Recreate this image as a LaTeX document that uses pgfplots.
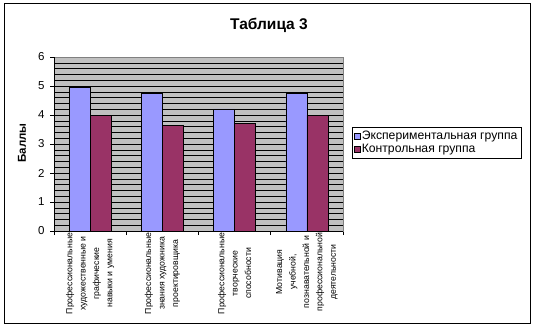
\documentclass[border=0pt]{standalone}
\usepackage{fontspec}
\setmainfont{Liberation Sans}
\usepackage{pgfplots}
\pgfplotsset{compat=1.18}
\definecolor{expc}{HTML}{9999FF}
\definecolor{ctlc}{HTML}{993366}
\definecolor{plotbg}{HTML}{C0C0C0}
\begin{document}
\begin{tikzpicture}[x=1pt,y=1pt]
\path[fill=white] (0,0) rectangle (535,327);
\draw[line width=0.9pt] (4,4) rectangle (530,324);
\node[font=\bfseries\fontsize{15.5}{17}\selectfont] at (269,302) {Таблица 3};
\node[rotate=90, font=\bfseries\fontsize{11.5}{13}\selectfont] at (22,184) {Баллы};
\begin{axis}[
  at={(54pt,96pt)}, anchor=south west,
  scale only axis, width=289pt, height=174pt,
  ybar=0pt, bar width=0.29,
  xmin=-0.5, xmax=3.5, ymin=0, ymax=6,
  axis background/.style={fill=plotbg},
  axis line style={draw=gray},
  ytick={0,1,2,3,4,5,6}, minor y tick num=4,
  ymajorgrids, yminorgrids,
  major grid style={black, line width=0.6pt},
  minor grid style={black, line width=0.6pt},
  tick style={black, line width=0.6pt},
  minor tick length=0pt, major tick length=4pt, tick align=outside,
  ytick pos=left, xtick pos=bottom,
  xtick={-0.5,0.5,1.5,2.5,3.5}, xticklabels={},
  extra x ticks={0,1,2,3},
  extra x tick labels={{Профессиональные\\художественные и\\графические\\навыки и умения},
    {Профессиональные\\знания художника\\проектировщика},
    {Профессиональные\\творческие\\способности},
    {Мотивация\\учебной,\\познавательной и\\профессиональной\\деятельности}},
  extra x tick style={major tick length=0pt, grid=none},
  xticklabel style={rotate=90, anchor=east, align=center, inner sep=1.5pt,
    font=\fontsize{8.7}{13.4}\selectfont},
  yticklabel style={font=\fontsize{11.5}{13}\selectfont, xshift=-2pt},
  /pgf/number format/assume math mode=true,
  legend style={at={(1.031,0.598)}, anchor=north west, draw=black, fill=white,
    font=\fontsize{12.2}{13}\selectfont, inner xsep=2pt, inner ysep=2.5pt,
    row sep=0pt, nodes={inner sep=1.5pt}},
  legend cell align=left,
]
\addplot[fill=expc, draw=black, line width=0.5pt,
  legend image code/.code={\draw[fill=expc, draw=black, line width=0.5pt] (0pt,-2.8pt) rectangle (5.6pt,2.8pt);}]
  coordinates {(0,4.94) (1,4.74) (2,4.21) (3,4.74)};
\addplot[fill=ctlc, draw=black, line width=0.5pt,
  legend image code/.code={\draw[fill=ctlc, draw=black, line width=0.5pt] (0pt,-2.8pt) rectangle (5.6pt,2.8pt);}]
  coordinates {(0,4.0) (1,3.63) (2,3.71) (3,4.0)};
\legend{Экспериментальная группа, Контрольная группа}
\draw[black, line width=0.7pt] (rel axis cs:0,0) -- (rel axis cs:0,1);
\draw[black, line width=0.7pt] (rel axis cs:0,0) -- (rel axis cs:1,0);
\end{axis}
\end{tikzpicture}
\end{document}
